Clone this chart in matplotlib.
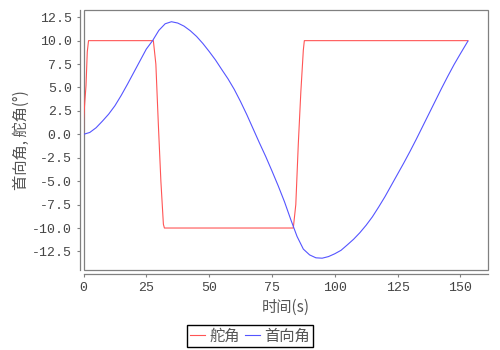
import matplotlib
matplotlib.use("Agg")
import matplotlib.pyplot as plt
from matplotlib.patches import Rectangle

plt.rcParams['font.family'] = ['Noto Sans CJK SC', 'DejaVu Sans']

# time (s) and heading angle (deg)
t_heading = [0, 2.5, 5, 7.5, 10, 12.5, 15, 17.5, 20, 22.5, 25, 27.5, 30, 32.5,
             35, 37.5, 40, 42.5, 45, 47.5, 50, 52.5, 55, 57.5, 60, 62.5, 65,
             67.5, 70, 72.5, 75, 77.5, 80, 82.5, 85, 87.5, 90, 92.5, 95, 97.5,
             100, 102.5, 105, 107.5, 110, 112.5, 115, 117.5, 120, 122.5, 125,
             127.5, 130, 132.5, 135, 137.5, 140, 142.5, 145, 147.5, 150, 153]
heading = [0, 0.2, 0.7, 1.4, 2.15, 3.05, 4.15, 5.35, 6.6, 7.85, 9.1, 10.0, 11.1, 11.8,
           12.02, 11.88, 11.55, 11.06, 10.45, 9.7, 8.85, 7.95, 6.93, 5.93, 4.8, 3.5, 2.1,
           0.6, -0.9, -2.35, -3.9, -5.5, -7.2, -9.1, -10.9, -12.25, -12.87, -13.18, -13.22, -13.05,
           -12.75, -12.38, -11.8, -11.2, -10.5, -9.7, -8.8, -7.75, -6.65, -5.45, -4.25,
           -3.05, -1.8, -0.5, 0.85, 2.2, 3.55, 4.9, 6.2, 7.45, 8.6, 9.95]

# rudder angle (deg)
t_rudder = [0, 0.05, 0.5, 1.0, 1.5, 2.0, 27.8, 28.8, 29.8, 30.8, 31.8, 32.2,
            83.5, 84.5, 85.5, 86.5, 87.5, 87.9, 153]
rudder = [0, 1.6, 3.4, 5.2, 8.8, 10, 10, 7.5, 1.0, -5.0, -9.6, -10,
          -10, -7.5, -1.0, 4.5, 9.0, 10, 10]

fig = plt.figure(figsize=(5, 3.5), dpi=100)
ax = fig.add_axes([0.167, 0.2286, 0.809, 0.7428])

ax.plot(t_rudder, rudder, color='#FF5555', lw=0.8, label='舵角')
ax.plot(t_heading, heading, color='#5555FF', lw=0.8, label='首向角')

ax.set_xlim(0, 161)
ax.set_ylim(-14.48, 13.27)
ax.set_xticks([0, 25, 50, 75, 100, 125, 150])
ax.set_yticks([-12.5, -10, -7.5, -5, -2.5, 0, 2.5, 5, 7.5, 10, 12.5])
ax.set_yticklabels([f'{v:.1f}' for v in ax.get_yticks()])

ax.tick_params(length=2, width=0.8, color='gray', pad=4, labelsize=9.5,
               labelcolor='#444444', labelfontfamily='Liberation Mono')

# plot area box + offset axis lines
ax.spines['top'].set_visible(False)
ax.spines['right'].set_visible(False)
ax.spines['left'].set_position(('outward', 2.5))
ax.spines['bottom'].set_position(('outward', 2.9))
for s in ['left', 'bottom']:
    ax.spines[s].set_color('gray')
    ax.spines[s].set_linewidth(0.9)
ax.add_patch(Rectangle((0, 0), 1, 1, transform=ax.transAxes, fill=False,
                       edgecolor='gray', lw=0.9, clip_on=False))

ax.set_xlabel('时间(s)', fontsize=11, color='#555555', labelpad=3)
ax.set_ylabel('首向角, 舵角(°)', fontsize=11, color='#555555', labelpad=1)

leg = fig.legend(loc='center', bbox_to_anchor=(0.5, 0.04), ncol=2, fontsize=11,
                 frameon=True, fancybox=False, edgecolor='black', framealpha=1,
                 handlelength=1.0, handletextpad=0.3, columnspacing=0.3,
                 borderpad=0.15, borderaxespad=0)
leg.get_frame().set_linewidth(1.0)
for txt in leg.get_texts():
    txt.set_color('#555555')

fig.savefig('out.png', dpi=100)
